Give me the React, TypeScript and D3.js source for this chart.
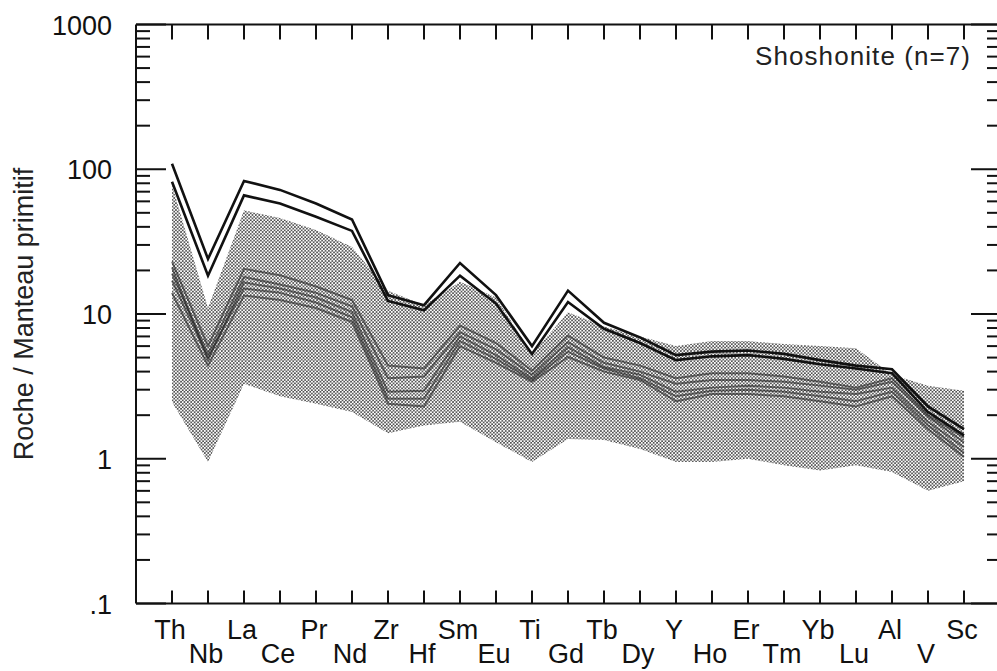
import React from "react";
import * as d3 from "d3";

const elements = ["Th","Nb","La","Ce","Pr","Nd","Zr","Hf","Sm","Eu","Ti","Gd","Tb","Dy","Y","Ho","Er","Tm","Yb","Lu","Al","V","Sc"];

const bandUpper = [78, 11, 52, 46, 38, 29, 14.5, 11.5, 16.7, 13, 5.3, 10.3, 8.2, 7.0, 6.0, 6.5, 6.5, 6.2, 6.0, 5.8, 3.8, 3.2, 2.95];
const bandLower = [2.47, 0.95, 3.3, 2.7, 2.4, 2.1, 1.5, 1.7, 1.8, 1.3, 0.95, 1.37, 1.35, 1.17, 0.95, 0.95, 1.0, 0.9, 0.83, 0.9, 0.81, 0.6, 0.7];

const upper1 = [109, 24, 83, 72, 58, 45, 13.5, 11.5, 22.5, 13.5, 6.0, 14.5, 8.7, 6.9, 5.2, 5.5, 5.6, 5.3, 4.8, 4.4, 4.15, 2.3, 1.6];
const upper2 = [82, 18.4, 66, 58, 47, 37.5, 12.3, 10.6, 18.4, 11.8, 5.3, 12.1, 7.9, 6.3, 4.8, 5.1, 5.2, 4.9, 4.5, 4.2, 3.9, 2.1, 1.45];

const lower1 = [23, 6.0, 20.5, 18.5, 15.5, 12.5, 4.4, 4.2, 8.3, 6.3, 4.05, 7.1, 5.0, 4.4, 3.6, 3.9, 3.9, 3.7, 3.4, 3.1, 3.6, 2.0, 1.4];
const lower2 = [19, 5.3, 18, 16, 14, 11.3, 3.6, 3.7, 7.5, 5.7, 3.8, 6.4, 4.6, 4.0, 3.3, 3.5, 3.5, 3.4, 3.2, 3.0, 3.4, 1.95, 1.3];
const lower3 = [21, 4.8, 16.5, 15, 13, 10.3, 2.9, 2.95, 7.0, 5.2, 3.6, 5.9, 4.3, 3.8, 2.9, 3.1, 3.2, 3.1, 2.9, 2.8, 3.1, 1.8, 1.2];
const lower4 = [14, 4.4, 13.4, 12.5, 11, 8.8, 2.4, 2.3, 6.0, 4.6, 3.4, 5.05, 4.0, 3.5, 2.5, 2.8, 2.8, 2.7, 2.5, 2.3, 2.7, 1.6, 1.03];
const lower5 = [17, 5.0, 15, 14, 12, 9.5, 2.6, 2.6, 6.5, 4.9, 3.5, 5.5, 4.2, 3.6, 2.7, 2.95, 3.0, 2.9, 2.7, 2.5, 2.9, 1.7, 1.1];

const upperLines = [upper1, upper2];
const lowerLines = [lower1, lower2, lower3, lower4, lower5];

const yTickValues = [0.1, 1, 10, 100, 1000];
const yTickLabels = [".1", "1", "10", "100", "1000"];

const legendText = "Shoshonite (n=7)";
const yTitle = "Roche / Manteau primitif";

const W = 997, H = 671;
const left = 136, right = 1001, top = 24.5, bottom = 603.5;

export default function App() {
  const x = d3.scaleLinear().domain([-1, 23]).range([left, 1000]);
  const y = d3.scaleLog().domain([0.1, 1000]).range([bottom, top]);

  const line = d3.line<number>().x((_, i) => x(i)).y((d) => y(d));
  const area = d3.area<number>()
    .x((_, i) => x(i))
    .y0((_, i) => y(bandLower[i]))
    .y1((d) => y(d));

  const minor: number[] = [];
  for (let e = -1; e < 3; e++) {
    for (let m = 2; m <= 9; m++) minor.push(m * Math.pow(10, e));
  }

  const font = "'Liberation Sans', Arial, Helvetica, sans-serif";

  return (
    <svg width={W} height={H} style={{ position: "absolute", left: 0, top: 0, background: "#fff" }} fontFamily={font}>
      <defs>
        <pattern id="dots" width="3.4" height="3.4" patternUnits="userSpaceOnUse">
          <circle cx="0.85" cy="0.85" r="0.95" fill="#444" />
          <circle cx="2.55" cy="2.55" r="0.95" fill="#444" />
        </pattern>
      </defs>
      <rect x={0} y={0} width={W} height={H} fill="#fff" />

      {/* shaded band */}
      <path d={area(bandUpper) || ""} fill="url(#dots)" stroke="none" />

      {/* lower group */}
      {lowerLines.map((s, i) => (
        <path key={"l" + i} d={line(s) || ""} fill="none" stroke="#222" strokeOpacity={0.6} strokeWidth={2} strokeLinejoin="round" />
      ))}
      {/* upper group */}
      {upperLines.map((s, i) => (
        <path key={"u" + i} d={line(s) || ""} fill="none" stroke="#111" strokeWidth={2.6} strokeLinejoin="miter" />
      ))}

      {/* frame */}
      <line x1={left} x2={left} y1={top} y2={bottom} stroke="#111" strokeWidth={2} />
      <line x1={left} x2={right} y1={top} y2={top} stroke="#111" strokeWidth={2} />
      <line x1={left} x2={right} y1={bottom} y2={bottom} stroke="#111" strokeWidth={2} />
      <line x1={right} x2={right} y1={top} y2={bottom} stroke="#111" strokeWidth={2} />

      {/* y ticks */}
      {yTickValues.map((v) => (
        <g key={"yt" + v}>
          <line x1={left} x2={left + 30} y1={y(v)} y2={y(v)} stroke="#111" strokeWidth={2} />
          <line x1={right - 30} x2={right} y1={y(v)} y2={y(v)} stroke="#111" strokeWidth={2} />
        </g>
      ))}
      {minor.map((v) => (
        <g key={"ym" + v}>
          <line x1={left} x2={left + 14} y1={y(v)} y2={y(v)} stroke="#111" strokeWidth={2} />
          <line x1={right - 14} x2={right} y1={y(v)} y2={y(v)} stroke="#111" strokeWidth={2} />
        </g>
      ))}
      {yTickValues.map((v, i) => (
        <text key={"yl" + v} x={112} y={y(v) + 10} textAnchor="end" fontSize={27} fill="#111">{yTickLabels[i]}</text>
      ))}

      {/* x ticks */}
      {elements.map((el, i) => (
        <g key={"xt" + el}>
          <line x1={x(i)} x2={x(i)} y1={top} y2={top + 15} stroke="#111" strokeWidth={2} />
          <line x1={x(i)} x2={x(i)} y1={bottom} y2={bottom - 13} stroke="#111" strokeWidth={2} />
          <text x={x(i) - 2} y={i % 2 === 0 ? 639 : 663} textAnchor="middle" fontSize={27} fill="#111">{el}</text>
        </g>
      ))}

      {/* legend */}
      <text x={970} y={65} textAnchor="end" fontSize={26} fill="#222" textLength={215} lengthAdjust="spacing">{legendText}</text>

      {/* y title */}
      <text transform={`translate(33, ${314}) rotate(-90)`} textAnchor="middle" fontSize={27} fill="#222">{yTitle}</text>
    </svg>
  );
}
